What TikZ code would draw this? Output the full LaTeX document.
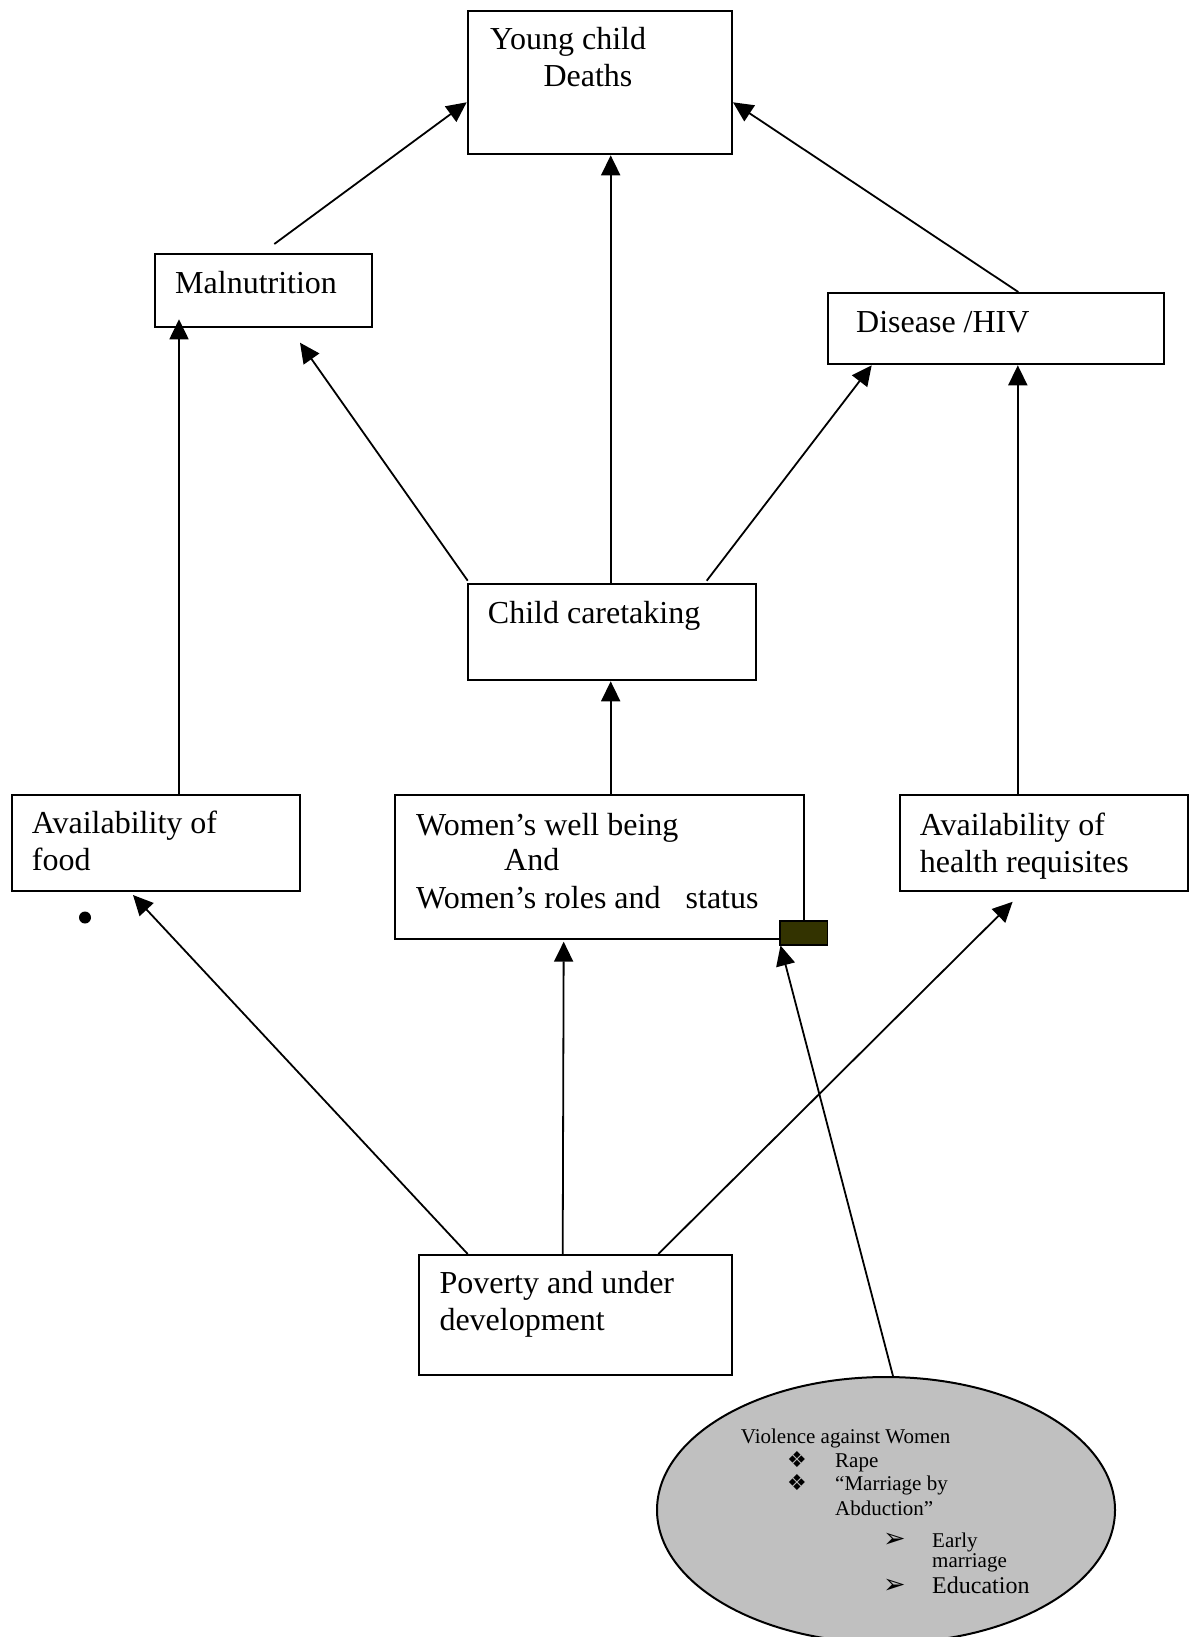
\documentclass[tikz,border=0pt]{standalone}
\usepackage{fontspec}
\setmainfont{Liberation Serif}
\newfontfamily\symfont{DejaVu Sans}
\usetikzlibrary{arrows.meta,calc,shapes.geometric}
\definecolor{darkolive}{RGB}{51,51,0}
\definecolor{ellgray}{RGB}{192,192,192}
\begin{document}
\begin{tikzpicture}[x=1pt,y=-1pt,
  box/.style={draw,line width=2pt,rectangle,anchor=north west,inner sep=0pt},
  txt/.style={anchor=base west,inner sep=0pt,font=\fontsize{32pt}{36.7pt}\selectfont},
  small/.style={anchor=base west,inner sep=0pt,font=\fontsize{21pt}{24pt}\selectfont},
  symb/.style={anchor=base west,inner sep=0pt,font=\symfont\fontsize{22pt}{24pt}\selectfont},
  arrsymb/.style={anchor=base west,inner sep=0pt,font=\symfont\fontsize{27pt}{28pt}\selectfont},
  conn/.style={line width=1.8pt,-{Triangle[length=20pt,width=19pt]}}]
\useasboundingbox (0,0) rectangle (1189,1637);
\clip (0,0) rectangle (1189,1637);

% boxes
\node[box,minimum width=264.3pt,minimum height=143.3pt] (deaths) at (466.7,10) {};
\node[box,minimum width=216.7pt,minimum height=72.7pt] (mal) at (154.3,253.3) {};
\node[box,minimum width=336pt,minimum height=71.3pt] (dis) at (826.7,292) {};
\node[box,minimum width=288.3pt,minimum height=96pt] (care) at (466.7,583.3) {};
\node[box,minimum width=288.3pt,minimum height=95.7pt] (food) at (10.7,794.3) {};
\node[box,minimum width=409pt,minimum height=143.4pt] (women) at (394.3,794.3) {};
\node[box,minimum width=288pt,minimum height=96pt] (health) at (898.8,794.4) {};
\node[box,minimum width=312.7pt,minimum height=120pt] (pov) at (418.3,1254) {};
\node[draw,line width=2pt,ellipse,fill=ellgray,minimum width=458pt,minimum height=266pt,inner sep=0pt] (vio) at (886,1510) {};
\node[draw,line width=1.5pt,rectangle,fill=darkolive,anchor=north west,minimum width=47.7pt,minimum height=24pt,inner sep=0pt] (dark) at (779,920) {};
\node[circle,fill=black,minimum size=12pt,inner sep=0pt] (dot) at (85,917.5) {};

% texts
\node[txt] (t1) at (490,50) {Young child};
\node[txt] (t2) at (543.3,87) {Deaths};
\node[txt] (t3) at (175,293.3) {Malnutrition};
\node[txt] (t4) at (856,332.7) {Disease /HIV};
\node[txt] (t5) at (487.7,623.3) {Child caretaking};
\node[txt] (t6) at (31.7,833.3) {Availability of};
\node[txt] (t7) at (31.7,870.7) {food};
\node[txt] (t8) at (416,835) {Women’s well being};
\node[txt] (t9) at (504,870.7) {And};
\node[txt] (t10) at (416,908.3) {Women’s roles and\hspace{17pt} status};
\node[txt] (t11) at (919.7,835) {Availability of};
\node[txt] (t12) at (919.7,872) {health requisites};
\node[txt] (t13) at (439.3,1293.3) {Poverty and under};
\node[txt] (t14) at (439.3,1330.7) {development};

\node[small] (v1) at (740.7,1443) {Violence against Women};
\node[symb] (b1) at (787,1467) {❖};
\node[small] (v2) at (835,1467) {Rape};
\node[symb] (b2) at (787,1490) {❖};
\node[small] (v3) at (835,1490) {“Marriage by};
\node[small] (v4) at (835,1515) {Abduction”};
\node[arrsymb] (b3) at (883,1547) {➢};
\node[small] (v5) at (932,1547) {Early};
\node[small] (v6) at (932,1567) {marriage};
\node[arrsymb] (b4) at (883,1593) {➢};
\node[anchor=base west,inner sep=0pt,font=\fontsize{24pt}{28pt}\selectfont] (v7) at (932,1593) {Education};

% connectors
\draw[conn] ($(mal.north west)+(120,-9.3)$) -- ($(deaths.north west)+(0,92.3)$);
\draw[conn] ($(care.north west)+(144,0)$) -- ($(deaths.south west)+(144,0)$);
\draw[conn] ($(dis.north west)+(191.6,0)$) -- ($(deaths.north east)+(0,92.3)$);
\draw[conn] ($(food.north west)+(168.3,0)$) -- ($(mal.south west)+(24.7,-8.7)$);
\draw[conn] ($(care.north west)+(1,-2.6)$) -- ($(mal.south west)+(145.7,14.7)$);
\draw[conn] ($(care.north west)+(240,-2.6)$) -- ($(dis.south west)+(45,0)$);
\draw[conn] ($(health.north west)+(119,0)$) -- ($(dis.south west)+(191.1,0)$);
\draw[conn] ($(women.north west)+(216.4,0)$) -- ($(care.south west)+(144,0)$);
\draw[conn] ($(pov.north west)+(49.4,0)$) -- ($(food.south west)+(122.3,3)$);
\draw[conn] ($(pov.north west)+(144.4,0)$) -- ($(women.south west)+(169.4,2)$);
\draw[conn] ($(pov.north west)+(240,0)$) -- ($(health.south west)+(113.8,9.4)$);
\draw[conn] ($(vio.north)+(7,0)$) -- ($(dark.south west)+(1.5,0)$);
\end{tikzpicture}
\end{document}
